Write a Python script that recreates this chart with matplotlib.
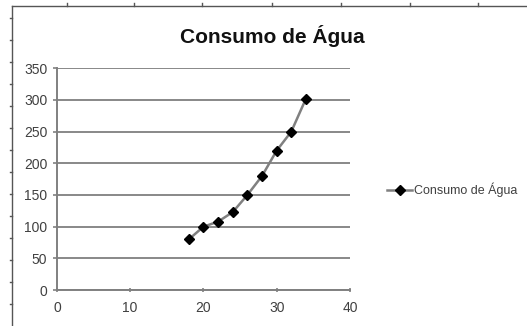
import matplotlib.pyplot as plt
from matplotlib.lines import Line2D

plt.rcParams['font.family'] = ['Liberation Sans', 'DejaVu Sans']

temperatura = [18, 20, 22, 24, 26, 28, 30, 32, 34]
consumo = [80, 100, 108, 123, 150, 180, 220, 250, 302]
titulo = 'Consumo de Água'
serie = 'Consumo de Água'

fig = plt.figure(figsize=(5.27, 3.26), dpi=100)
ax = fig.add_axes([0.108, 0.110, 0.556, 0.681])

ax.plot(temperatura, consumo, color='#808080', lw=1.8, marker='D', ms=5.5,
        mfc='black', mec='black', label=serie, zorder=3)

ax.set_xlim(0, 40)
ax.set_ylim(0, 350)
ax.set_xticks(range(0, 41, 10))
ax.set_yticks(range(0, 351, 50))
ax.grid(axis='y', color='#888888', lw=1.4)
ax.set_axisbelow(True)
for s in ['top', 'right']:
    ax.spines[s].set_visible(False)
for s in ['left', 'bottom']:
    ax.spines[s].set_color('#808080')
    ax.spines[s].set_linewidth(1.4)
ax.tick_params(colors='#808080', labelcolor='#404040', labelsize=10, length=3, width=1.2)
ax.tick_params(axis='x', direction='inout', pad=6)
ax.tick_params(axis='y', pad=4)

fig.text(0.516, 0.89, titulo, ha='center', va='center', fontsize=15, fontweight='bold',
         color='#111111')

ax.legend(loc='center left', bbox_to_anchor=(1.0, 0.45), frameon=False,
          fontsize=9, handlelength=2.0, handletextpad=0.1, borderaxespad=2.6,
          labelcolor='#404040')

# moldura da folha de calculo (topo e esquerda)
fig.add_artist(Line2D([12/527, 1], [1 - 6/326, 1 - 6/326], color='#555555', lw=1))
fig.add_artist(Line2D([12/527, 12/527], [0, 1 - 6/326], color='#555555', lw=1))
for xp in [67, 134, 202, 272, 341, 410, 478]:
    fig.add_artist(Line2D([xp/527, xp/527], [1 - 6/326, 1 - 3/326], color='#555555', lw=1))
for yp in range(18, 326, 22):
    fig.add_artist(Line2D([10/527, 12/527], [1 - yp/326, 1 - yp/326], color='#555555', lw=1))

fig.savefig('out.png', dpi=100)
